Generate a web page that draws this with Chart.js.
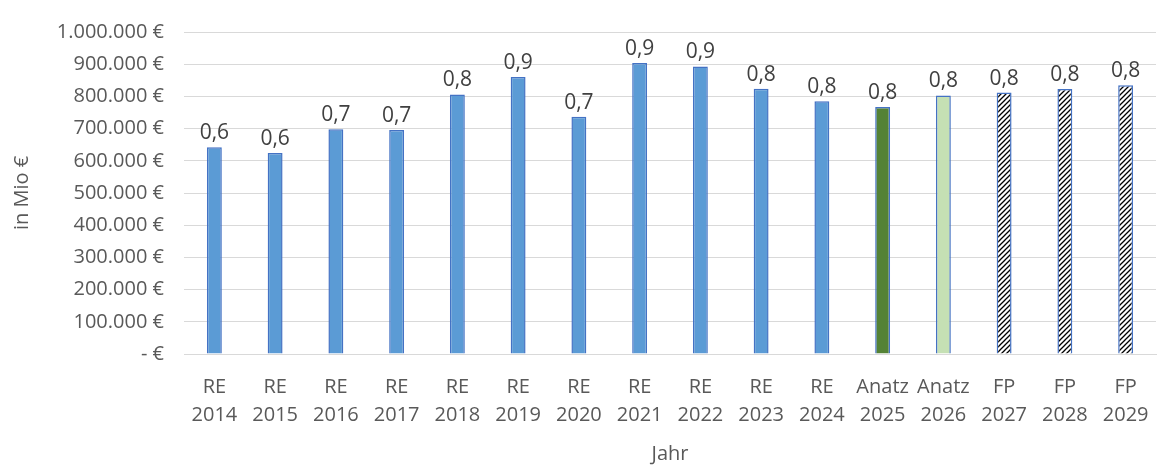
<!DOCTYPE html>
<html>
<head>
<meta charset="utf-8">
<script src="https://cdn.jsdelivr.net/npm/chart.js@4"></script>
<style>
  html, body { margin: 0; padding: 0; background: #fff; }
  #wrap { width: 1163px; height: 466px; }
</style>
</head>
<body>
<div id="wrap"><canvas id="grafico" width="1163" height="466"></canvas></div>
<script>
const kategorien = ["RE 2014", "RE 2015", "RE 2016", "RE 2017", "RE 2018", "RE 2019", "RE 2020", "RE 2021",
  "RE 2022", "RE 2023", "RE 2024", "Anatz 2025", "Anatz 2026", "FP 2027", "FP 2028", "FP 2029"];
const werte = [642000, 624000, 698000, 696000, 806000, 860000, 737000, 904000,
  893000, 824000, 785000, 767000, 803000, 812000, 823000, 835000];
const art = ["RE", "RE", "RE", "RE", "RE", "RE", "RE", "RE", "RE", "RE", "RE", "Ist", "Plan", "FP", "FP", "FP"];

function schraffur() {
  const c = document.createElement("canvas");
  c.width = 5; c.height = 5;
  const g = c.getContext("2d");
  g.fillStyle = "#fff";
  g.fillRect(0, 0, 5, 5);
  g.strokeStyle = "#000";
  g.lineWidth = 1.3;
  g.beginPath();
  g.moveTo(-1, 6); g.lineTo(6, -1);
  g.moveTo(-1, 1); g.lineTo(1, -1);
  g.moveTo(4, 6); g.lineTo(6, 4);
  g.stroke();
  return g.createPattern(c, "repeat");
}

document.addEventListener("DOMContentLoaded", function () {
  const ctx = document.getElementById("grafico").getContext("2d");
  const muster = schraffur();
  const farben = art.map(function (a) {
    if (a === "Ist") return "#548235";
    if (a === "Plan") return "#C5E0B4";
    if (a === "FP") return muster;
    return "#5B9BD5";
  });

  const werteLabels = {
    id: "werteLabels",
    afterDatasetsDraw(chart) {
      const c = chart.ctx;
      const meta = chart.getDatasetMeta(0);
      c.save();
      c.font = "21px 'Open Sans'";
      c.fillStyle = "#404040";
      c.textAlign = "center";
      c.textBaseline = "alphabetic";
      meta.data.forEach(function (bar, i) {
        const txt = (werte[i] / 1000000).toFixed(1).replace(".", ",");
        c.fillText(txt, bar.x, bar.y - 8);
      });
      c.restore();
    },
  };

  new Chart(ctx, {
    type: "bar",
    data: {
      labels: kategorien.map(function (k) { return k.split(" "); }),
      datasets: [
        {
          data: werte,
          backgroundColor: farben,
          borderColor: "#4472C4",
          borderWidth: 1.5,
          barPercentage: 0.245,
          categoryPercentage: 1,
        },
      ],
    },
    options: {
      responsive: false,
      animation: false,
      layout: { padding: { top: 19, right: 7, left: 0, bottom: 0 } },
      plugins: { legend: { display: false }, tooltip: { enabled: false } },
      scales: {
        x: {
          grid: { display: false },
          border: { color: "#d9d9d9" },
          ticks: {
            color: "#595959",
            font: { family: "'Open Sans'", size: 20, lineHeight: 1.4 },
            maxRotation: 0,
            autoSkip: false,
            padding: 11,
          },
          title: {
            display: true,
            text: "Jahr",
            color: "#595959",
            font: { family: "'Open Sans'", size: 20 },
            padding: { top: 4, bottom: 0 },
          },
          afterFit(scale) { scale.height = 112; },
        },
        y: {
          min: 0,
          max: 1000000,
          grid: { color: "#d9d9d9", drawTicks: false },
          border: { display: false },
          ticks: {
            stepSize: 100000,
            padding: 20,
            color: "#595959",
            font: { family: "'Open Sans'", size: 20 },
            callback: function (v) {
              if (v === 0) return "- €";
              return v.toLocaleString("de-DE") + " €";
            },
          },
          title: {
            display: true,
            text: "in Mio €",
            color: "#595959",
            font: { family: "'Open Sans'", size: 20 },
            padding: { top: 10, bottom: 4 },
          },
          afterFit(scale) { scale.width = 184; },
        },
      },
    },
    plugins: [werteLabels],
  });
});
</script>
</body>
</html>
